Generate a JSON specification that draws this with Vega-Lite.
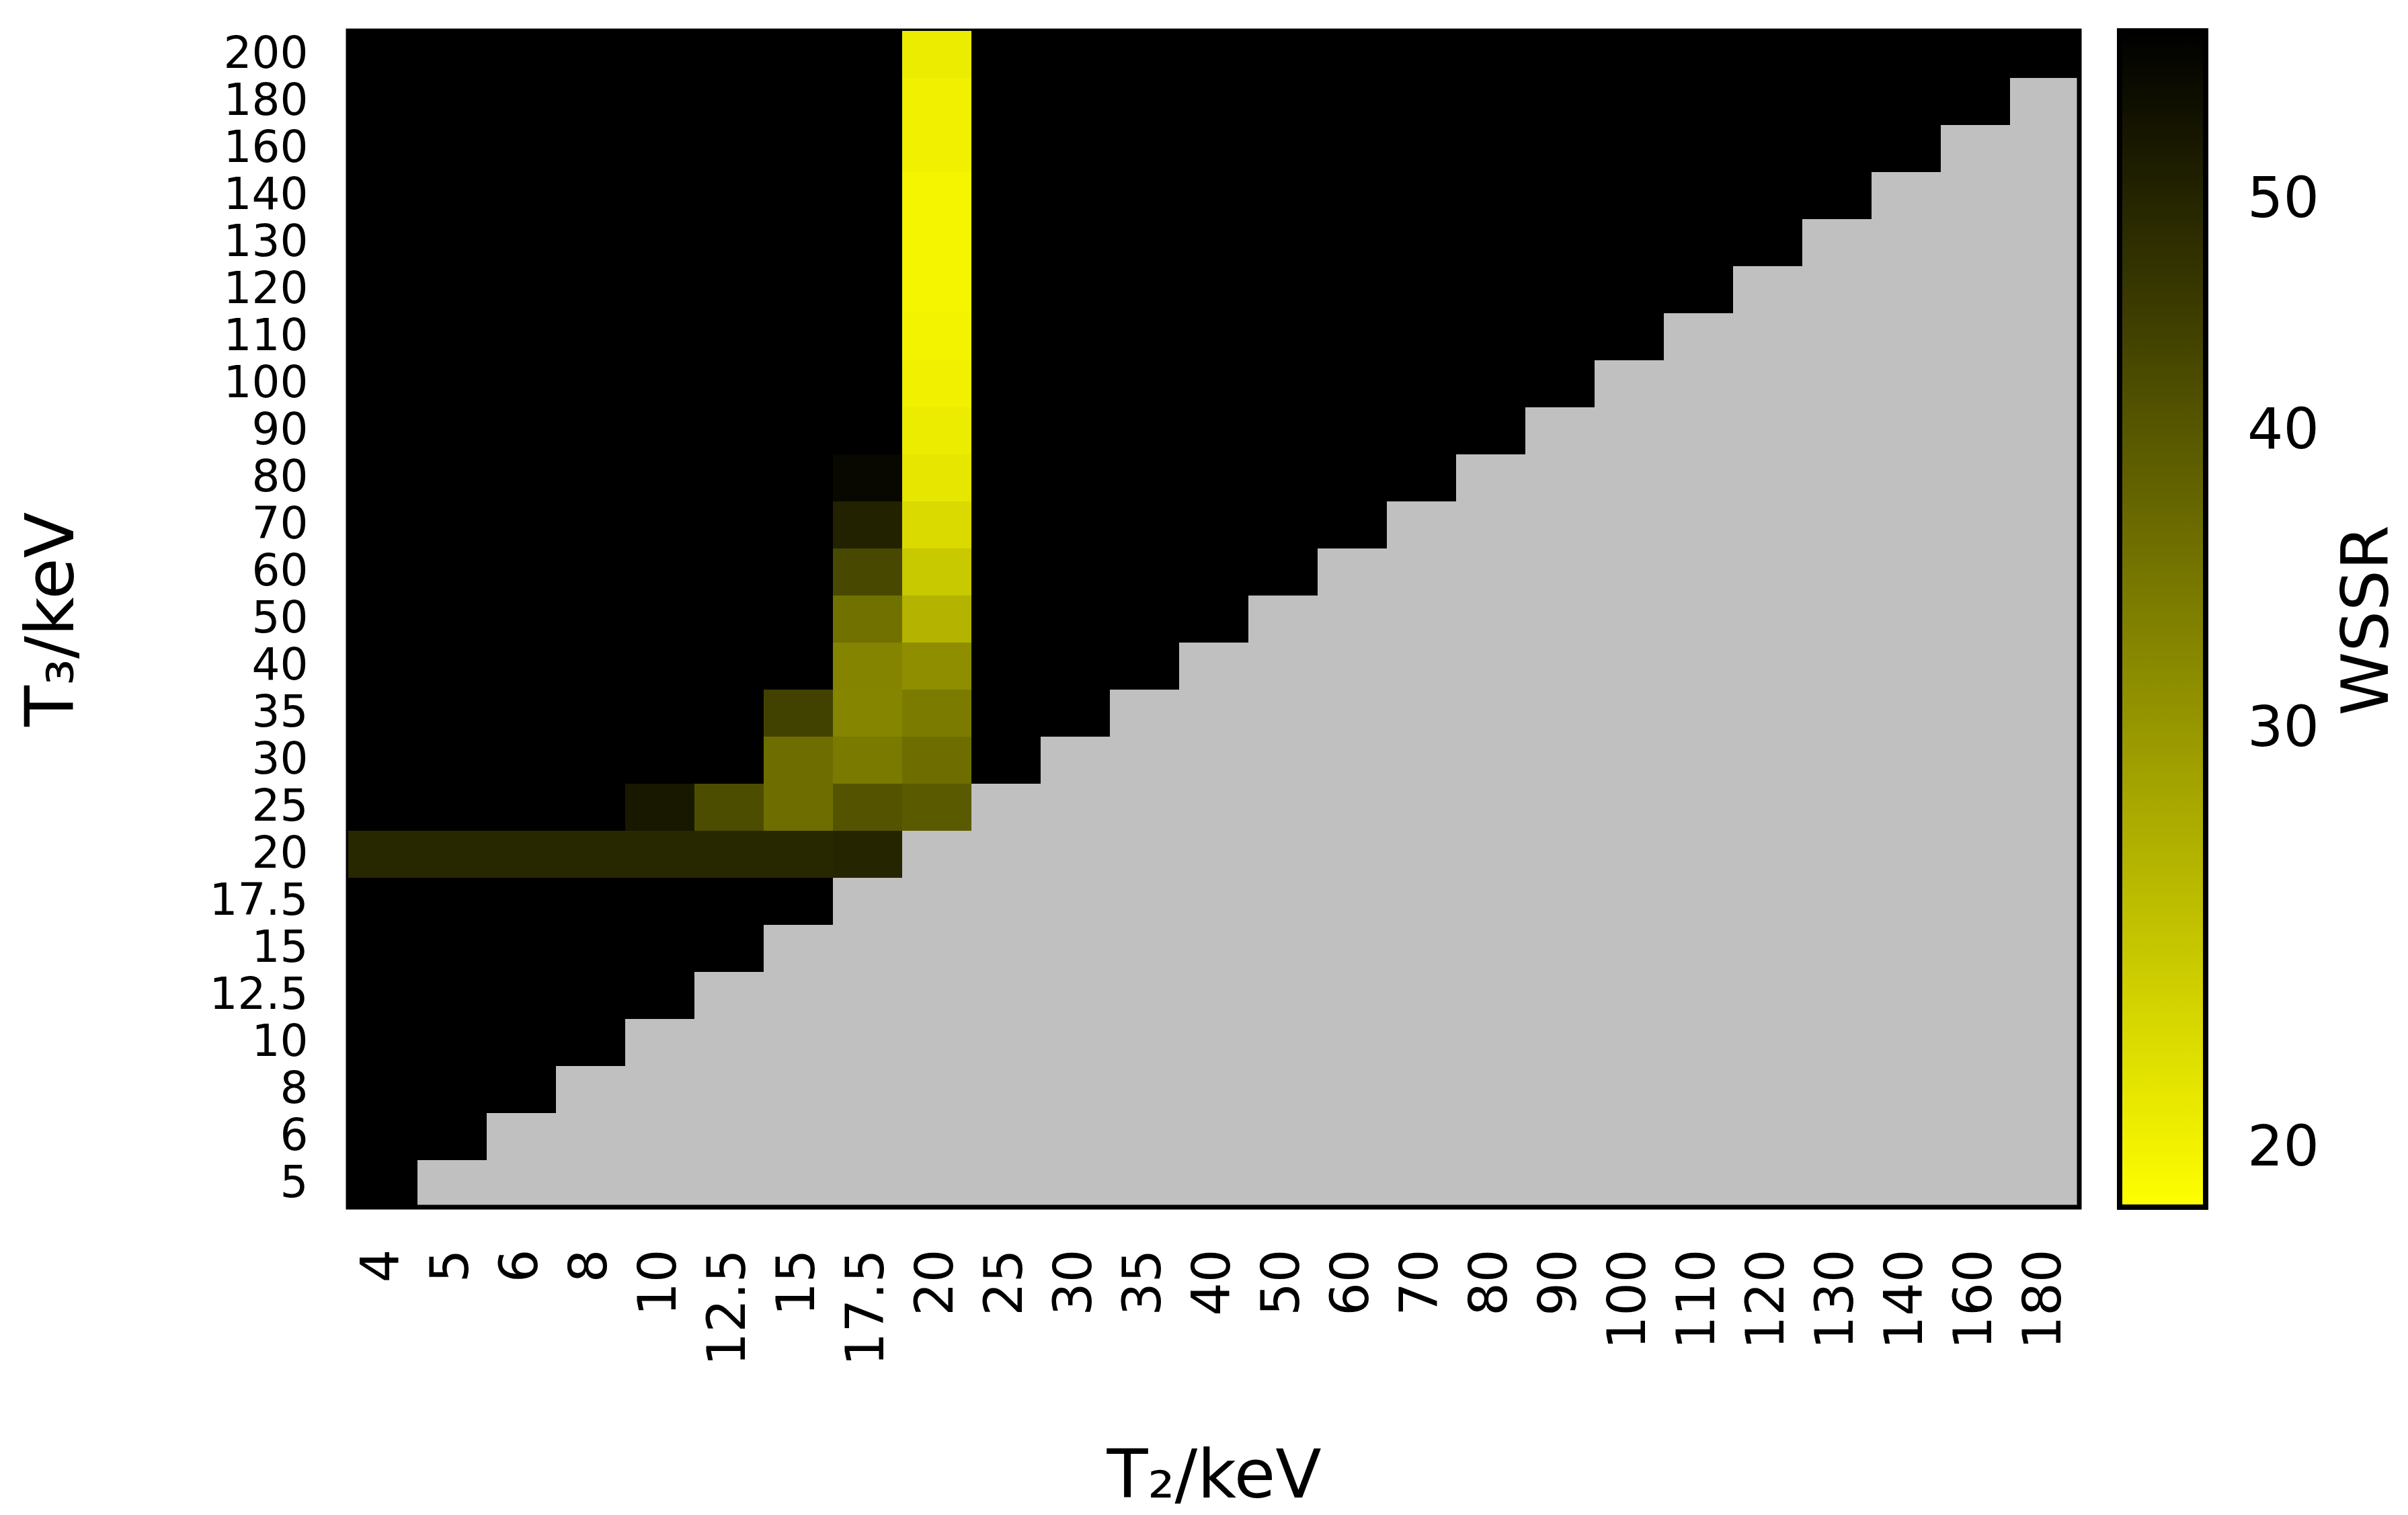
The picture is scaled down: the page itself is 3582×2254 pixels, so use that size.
{
  "$schema": "https://vega.github.io/schema/vega-lite/v6.json",
  "autosize": {"type": "none"},
  "padding": {"left": 518, "top": 46, "right": 489, "bottom": 458},
  "width": 2575,
  "height": 1750,
  "background": "white",
  "config": {
    "view": {"fill": "#c0c0c0", "stroke": "#000000", "strokeWidth": 7},
    "font": "DejaVu Sans"
  },
  "data": {"values": [
    {"T3":5,"T2":4,"WSSR":60},
    {"T3":6,"T2":4,"WSSR":60},{"T3":6,"T2":5,"WSSR":60},
    {"T3":8,"T2":4,"WSSR":60},{"T3":8,"T2":5,"WSSR":60},{"T3":8,"T2":6,"WSSR":60},
    {"T3":10,"T2":4,"WSSR":60},{"T3":10,"T2":5,"WSSR":60},{"T3":10,"T2":6,"WSSR":60},{"T3":10,"T2":8,"WSSR":60},
    {"T3":12.5,"T2":4,"WSSR":60},{"T3":12.5,"T2":5,"WSSR":60},{"T3":12.5,"T2":6,"WSSR":60},{"T3":12.5,"T2":8,"WSSR":60},{"T3":12.5,"T2":10,"WSSR":60},
    {"T3":15,"T2":4,"WSSR":60},{"T3":15,"T2":5,"WSSR":60},{"T3":15,"T2":6,"WSSR":60},{"T3":15,"T2":8,"WSSR":60},{"T3":15,"T2":10,"WSSR":60},{"T3":15,"T2":12.5,"WSSR":60},
    {"T3":17.5,"T2":4,"WSSR":60},{"T3":17.5,"T2":5,"WSSR":60},{"T3":17.5,"T2":6,"WSSR":60},{"T3":17.5,"T2":8,"WSSR":60},{"T3":17.5,"T2":10,"WSSR":60},{"T3":17.5,"T2":12.5,"WSSR":60},{"T3":17.5,"T2":15,"WSSR":60},
    {"T3":20,"T2":4,"WSSR":49.3},{"T3":20,"T2":5,"WSSR":49.3},{"T3":20,"T2":6,"WSSR":49.3},{"T3":20,"T2":8,"WSSR":49.3},{"T3":20,"T2":10,"WSSR":49.3},{"T3":20,"T2":12.5,"WSSR":49.3},{"T3":20,"T2":15,"WSSR":49.3},{"T3":20,"T2":17.5,"WSSR":49.9},
    {"T3":25,"T2":4,"WSSR":60},{"T3":25,"T2":5,"WSSR":60},{"T3":25,"T2":6,"WSSR":60},{"T3":25,"T2":8,"WSSR":60},{"T3":25,"T2":10,"WSSR":52.9},{"T3":25,"T2":12.5,"WSSR":41.8},{"T3":25,"T2":15,"WSSR":36.1},{"T3":25,"T2":17.5,"WSSR":40.5},{"T3":25,"T2":20,"WSSR":39.4},
    {"T3":30,"T2":4,"WSSR":60},{"T3":30,"T2":5,"WSSR":60},{"T3":30,"T2":6,"WSSR":60},{"T3":30,"T2":8,"WSSR":60},{"T3":30,"T2":10,"WSSR":60},{"T3":30,"T2":12.5,"WSSR":60},{"T3":30,"T2":15,"WSSR":36.1},{"T3":30,"T2":17.5,"WSSR":34.2},{"T3":30,"T2":20,"WSSR":36.1},{"T3":30,"T2":25,"WSSR":60},
    {"T3":35,"T2":4,"WSSR":60},{"T3":35,"T2":5,"WSSR":60},{"T3":35,"T2":6,"WSSR":60},{"T3":35,"T2":8,"WSSR":60},{"T3":35,"T2":10,"WSSR":60},{"T3":35,"T2":12.5,"WSSR":60},{"T3":35,"T2":15,"WSSR":43.9},{"T3":35,"T2":17.5,"WSSR":32.5},{"T3":35,"T2":20,"WSSR":34.0},{"T3":35,"T2":25,"WSSR":60},{"T3":35,"T2":30,"WSSR":60},
    {"T3":40,"T2":4,"WSSR":60},{"T3":40,"T2":5,"WSSR":60},{"T3":40,"T2":6,"WSSR":60},{"T3":40,"T2":8,"WSSR":60},{"T3":40,"T2":10,"WSSR":60},{"T3":40,"T2":12.5,"WSSR":60},{"T3":40,"T2":15,"WSSR":60},{"T3":40,"T2":17.5,"WSSR":32.7},{"T3":40,"T2":20,"WSSR":31.3},{"T3":40,"T2":25,"WSSR":60},{"T3":40,"T2":30,"WSSR":60},{"T3":40,"T2":35,"WSSR":60},
    {"T3":50,"T2":4,"WSSR":60},{"T3":50,"T2":5,"WSSR":60},{"T3":50,"T2":6,"WSSR":60},{"T3":50,"T2":8,"WSSR":60},{"T3":50,"T2":10,"WSSR":60},{"T3":50,"T2":12.5,"WSSR":60},{"T3":50,"T2":15,"WSSR":60},{"T3":50,"T2":17.5,"WSSR":35.6},{"T3":50,"T2":20,"WSSR":26.5},{"T3":50,"T2":25,"WSSR":60},{"T3":50,"T2":30,"WSSR":60},{"T3":50,"T2":35,"WSSR":60},{"T3":50,"T2":40,"WSSR":60},
    {"T3":60,"T2":4,"WSSR":60},{"T3":60,"T2":5,"WSSR":60},{"T3":60,"T2":6,"WSSR":60},{"T3":60,"T2":8,"WSSR":60},{"T3":60,"T2":10,"WSSR":60},{"T3":60,"T2":12.5,"WSSR":60},{"T3":60,"T2":15,"WSSR":60},{"T3":60,"T2":17.5,"WSSR":42.7},{"T3":60,"T2":20,"WSSR":24.0},{"T3":60,"T2":25,"WSSR":60},{"T3":60,"T2":30,"WSSR":60},{"T3":60,"T2":35,"WSSR":60},{"T3":60,"T2":40,"WSSR":60},{"T3":60,"T2":50,"WSSR":60},
    {"T3":70,"T2":4,"WSSR":60},{"T3":70,"T2":5,"WSSR":60},{"T3":70,"T2":6,"WSSR":60},{"T3":70,"T2":8,"WSSR":60},{"T3":70,"T2":10,"WSSR":60},{"T3":70,"T2":12.5,"WSSR":60},{"T3":70,"T2":15,"WSSR":60},{"T3":70,"T2":17.5,"WSSR":50.6},{"T3":70,"T2":20,"WSSR":22.3},{"T3":70,"T2":25,"WSSR":60},{"T3":70,"T2":30,"WSSR":60},{"T3":70,"T2":35,"WSSR":60},{"T3":70,"T2":40,"WSSR":60},{"T3":70,"T2":50,"WSSR":60},{"T3":70,"T2":60,"WSSR":60},
    {"T3":80,"T2":4,"WSSR":60},{"T3":80,"T2":5,"WSSR":60},{"T3":80,"T2":6,"WSSR":60},{"T3":80,"T2":8,"WSSR":60},{"T3":80,"T2":10,"WSSR":60},{"T3":80,"T2":12.5,"WSSR":60},{"T3":80,"T2":15,"WSSR":60},{"T3":80,"T2":17.5,"WSSR":56.9},{"T3":80,"T2":20,"WSSR":21.1},{"T3":80,"T2":25,"WSSR":60},{"T3":80,"T2":30,"WSSR":60},{"T3":80,"T2":35,"WSSR":60},{"T3":80,"T2":40,"WSSR":60},{"T3":80,"T2":50,"WSSR":60},{"T3":80,"T2":60,"WSSR":60},{"T3":80,"T2":70,"WSSR":60},
    {"T3":90,"T2":4,"WSSR":60},{"T3":90,"T2":5,"WSSR":60},{"T3":90,"T2":6,"WSSR":60},{"T3":90,"T2":8,"WSSR":60},{"T3":90,"T2":10,"WSSR":60},{"T3":90,"T2":12.5,"WSSR":60},{"T3":90,"T2":15,"WSSR":60},{"T3":90,"T2":17.5,"WSSR":60},{"T3":90,"T2":20,"WSSR":20.6},{"T3":90,"T2":25,"WSSR":60},{"T3":90,"T2":30,"WSSR":60},{"T3":90,"T2":35,"WSSR":60},{"T3":90,"T2":40,"WSSR":60},{"T3":90,"T2":50,"WSSR":60},{"T3":90,"T2":60,"WSSR":60},{"T3":90,"T2":70,"WSSR":60},{"T3":90,"T2":80,"WSSR":60},
    {"T3":100,"T2":4,"WSSR":60},{"T3":100,"T2":5,"WSSR":60},{"T3":100,"T2":6,"WSSR":60},{"T3":100,"T2":8,"WSSR":60},{"T3":100,"T2":10,"WSSR":60},{"T3":100,"T2":12.5,"WSSR":60},{"T3":100,"T2":15,"WSSR":60},{"T3":100,"T2":17.5,"WSSR":60},{"T3":100,"T2":20,"WSSR":20.2},{"T3":100,"T2":25,"WSSR":60},{"T3":100,"T2":30,"WSSR":60},{"T3":100,"T2":35,"WSSR":60},{"T3":100,"T2":40,"WSSR":60},{"T3":100,"T2":50,"WSSR":60},{"T3":100,"T2":60,"WSSR":60},{"T3":100,"T2":70,"WSSR":60},{"T3":100,"T2":80,"WSSR":60},{"T3":100,"T2":90,"WSSR":60},
    {"T3":110,"T2":4,"WSSR":60},{"T3":110,"T2":5,"WSSR":60},{"T3":110,"T2":6,"WSSR":60},{"T3":110,"T2":8,"WSSR":60},{"T3":110,"T2":10,"WSSR":60},{"T3":110,"T2":12.5,"WSSR":60},{"T3":110,"T2":15,"WSSR":60},{"T3":110,"T2":17.5,"WSSR":60},{"T3":110,"T2":20,"WSSR":19.9},{"T3":110,"T2":25,"WSSR":60},{"T3":110,"T2":30,"WSSR":60},{"T3":110,"T2":35,"WSSR":60},{"T3":110,"T2":40,"WSSR":60},{"T3":110,"T2":50,"WSSR":60},{"T3":110,"T2":60,"WSSR":60},{"T3":110,"T2":70,"WSSR":60},{"T3":110,"T2":80,"WSSR":60},{"T3":110,"T2":90,"WSSR":60},{"T3":110,"T2":100,"WSSR":60},
    {"T3":120,"T2":4,"WSSR":60},{"T3":120,"T2":5,"WSSR":60},{"T3":120,"T2":6,"WSSR":60},{"T3":120,"T2":8,"WSSR":60},{"T3":120,"T2":10,"WSSR":60},{"T3":120,"T2":12.5,"WSSR":60},{"T3":120,"T2":15,"WSSR":60},{"T3":120,"T2":17.5,"WSSR":60},{"T3":120,"T2":20,"WSSR":19.8},{"T3":120,"T2":25,"WSSR":60},{"T3":120,"T2":30,"WSSR":60},{"T3":120,"T2":35,"WSSR":60},{"T3":120,"T2":40,"WSSR":60},{"T3":120,"T2":50,"WSSR":60},{"T3":120,"T2":60,"WSSR":60},{"T3":120,"T2":70,"WSSR":60},{"T3":120,"T2":80,"WSSR":60},{"T3":120,"T2":90,"WSSR":60},{"T3":120,"T2":100,"WSSR":60},{"T3":120,"T2":110,"WSSR":60},
    {"T3":130,"T2":4,"WSSR":60},{"T3":130,"T2":5,"WSSR":60},{"T3":130,"T2":6,"WSSR":60},{"T3":130,"T2":8,"WSSR":60},{"T3":130,"T2":10,"WSSR":60},{"T3":130,"T2":12.5,"WSSR":60},{"T3":130,"T2":15,"WSSR":60},{"T3":130,"T2":17.5,"WSSR":60},{"T3":130,"T2":20,"WSSR":19.75},{"T3":130,"T2":25,"WSSR":60},{"T3":130,"T2":30,"WSSR":60},{"T3":130,"T2":35,"WSSR":60},{"T3":130,"T2":40,"WSSR":60},{"T3":130,"T2":50,"WSSR":60},{"T3":130,"T2":60,"WSSR":60},{"T3":130,"T2":70,"WSSR":60},{"T3":130,"T2":80,"WSSR":60},{"T3":130,"T2":90,"WSSR":60},{"T3":130,"T2":100,"WSSR":60},{"T3":130,"T2":110,"WSSR":60},{"T3":130,"T2":120,"WSSR":60},
    {"T3":140,"T2":4,"WSSR":60},{"T3":140,"T2":5,"WSSR":60},{"T3":140,"T2":6,"WSSR":60},{"T3":140,"T2":8,"WSSR":60},{"T3":140,"T2":10,"WSSR":60},{"T3":140,"T2":12.5,"WSSR":60},{"T3":140,"T2":15,"WSSR":60},{"T3":140,"T2":17.5,"WSSR":60},{"T3":140,"T2":20,"WSSR":19.75},{"T3":140,"T2":25,"WSSR":60},{"T3":140,"T2":30,"WSSR":60},{"T3":140,"T2":35,"WSSR":60},{"T3":140,"T2":40,"WSSR":60},{"T3":140,"T2":50,"WSSR":60},{"T3":140,"T2":60,"WSSR":60},{"T3":140,"T2":70,"WSSR":60},{"T3":140,"T2":80,"WSSR":60},{"T3":140,"T2":90,"WSSR":60},{"T3":140,"T2":100,"WSSR":60},{"T3":140,"T2":110,"WSSR":60},{"T3":140,"T2":120,"WSSR":60},{"T3":140,"T2":130,"WSSR":60},
    {"T3":160,"T2":4,"WSSR":60},{"T3":160,"T2":5,"WSSR":60},{"T3":160,"T2":6,"WSSR":60},{"T3":160,"T2":8,"WSSR":60},{"T3":160,"T2":10,"WSSR":60},{"T3":160,"T2":12.5,"WSSR":60},{"T3":160,"T2":15,"WSSR":60},{"T3":160,"T2":17.5,"WSSR":60},{"T3":160,"T2":20,"WSSR":20.2},{"T3":160,"T2":25,"WSSR":60},{"T3":160,"T2":30,"WSSR":60},{"T3":160,"T2":35,"WSSR":60},{"T3":160,"T2":40,"WSSR":60},{"T3":160,"T2":50,"WSSR":60},{"T3":160,"T2":60,"WSSR":60},{"T3":160,"T2":70,"WSSR":60},{"T3":160,"T2":80,"WSSR":60},{"T3":160,"T2":90,"WSSR":60},{"T3":160,"T2":100,"WSSR":60},{"T3":160,"T2":110,"WSSR":60},{"T3":160,"T2":120,"WSSR":60},{"T3":160,"T2":130,"WSSR":60},{"T3":160,"T2":140,"WSSR":60},
    {"T3":180,"T2":4,"WSSR":60},{"T3":180,"T2":5,"WSSR":60},{"T3":180,"T2":6,"WSSR":60},{"T3":180,"T2":8,"WSSR":60},{"T3":180,"T2":10,"WSSR":60},{"T3":180,"T2":12.5,"WSSR":60},{"T3":180,"T2":15,"WSSR":60},{"T3":180,"T2":17.5,"WSSR":60},{"T3":180,"T2":20,"WSSR":20.2},{"T3":180,"T2":25,"WSSR":60},{"T3":180,"T2":30,"WSSR":60},{"T3":180,"T2":35,"WSSR":60},{"T3":180,"T2":40,"WSSR":60},{"T3":180,"T2":50,"WSSR":60},{"T3":180,"T2":60,"WSSR":60},{"T3":180,"T2":70,"WSSR":60},{"T3":180,"T2":80,"WSSR":60},{"T3":180,"T2":90,"WSSR":60},{"T3":180,"T2":100,"WSSR":60},{"T3":180,"T2":110,"WSSR":60},{"T3":180,"T2":120,"WSSR":60},{"T3":180,"T2":130,"WSSR":60},{"T3":180,"T2":140,"WSSR":60},{"T3":180,"T2":160,"WSSR":60},
    {"T3":200,"T2":4,"WSSR":60},{"T3":200,"T2":5,"WSSR":60},{"T3":200,"T2":6,"WSSR":60},{"T3":200,"T2":8,"WSSR":60},{"T3":200,"T2":10,"WSSR":60},{"T3":200,"T2":12.5,"WSSR":60},{"T3":200,"T2":15,"WSSR":60},{"T3":200,"T2":17.5,"WSSR":60},{"T3":200,"T2":20,"WSSR":20.6},{"T3":200,"T2":25,"WSSR":60},{"T3":200,"T2":30,"WSSR":60},{"T3":200,"T2":35,"WSSR":60},{"T3":200,"T2":40,"WSSR":60},{"T3":200,"T2":50,"WSSR":60},{"T3":200,"T2":60,"WSSR":60},{"T3":200,"T2":70,"WSSR":60},{"T3":200,"T2":80,"WSSR":60},{"T3":200,"T2":90,"WSSR":60},{"T3":200,"T2":100,"WSSR":60},{"T3":200,"T2":110,"WSSR":60},{"T3":200,"T2":120,"WSSR":60},{"T3":200,"T2":130,"WSSR":60},{"T3":200,"T2":140,"WSSR":60},{"T3":200,"T2":160,"WSSR":60},{"T3":200,"T2":180,"WSSR":60}
  ]},
  "mark": {"type": "rect"},
  "encoding": {
    "x": {
      "field": "T2", "type": "ordinal",
      "scale": {"domain": [4,5,6,8,10,12.5,15,17.5,20,25,30,35,40,50,60,70,80,90,100,110,120,130,140,160,180], "paddingInner": 0, "paddingOuter": 0},
      "axis": {
        "title": "T₂/keV", "titleFontSize": 100, "titleFontWeight": "normal", "titleColor": "#000", "titlePadding": 152,
        "labelAngle": -90, "labelFontSize": 78, "labelColor": "#000", "labelPadding": 62,
        "ticks": false, "domain": false, "labelOverlap": false, "labelBound": false, "labelFlush": false
      }
    },
    "y": {
      "field": "T3", "type": "ordinal",
      "scale": {"domain": [200,180,160,140,130,120,110,100,90,80,70,60,50,40,35,30,25,20,17.5,15,12.5,10,8,6,5], "paddingInner": 0, "paddingOuter": 0},
      "axis": {
        "title": "T₃/keV", "titleFontSize": 100, "titleFontWeight": "normal", "titleColor": "#000", "titlePadding": 189,
        "labelFontSize": 66, "labelColor": "#000", "labelPadding": 60,
        "ticks": false, "domain": false, "labelOverlap": false, "labelBound": false, "labelFlush": false
      }
    },
    "color": {
      "field": "WSSR", "type": "quantitative",
      "scale": {"type": "log", "domain": [18.9, 58.9], "range": ["#ffff00", "#000000"], "interpolate": "rgb", "clamp": true},
      "legend": {
        "title": "WSSR", "orient": "right", "offset": 60, "padding": 0,
        "direction": "vertical",
        "gradientLength": 1750, "gradientThickness": 128,
        "gradientStrokeColor": "#000000", "gradientStrokeWidth": 8,
        "values": [20, 30, 40, 50],
        "labelFontSize": 84, "labelColor": "#000", "labelOffset": 62, "labelOverlap": false,
        "titleOrient": "right", "titleFontSize": 96, "titleFontWeight": "normal", "titleColor": "#000",
        "titleAnchor": "middle", "titleAlign": "center", "titleBaseline": "top", "titlePadding": 26, "titleLimit": 3000,
        "encoding": {"title": {"angle": {"value": -90}}}
      }
    }
  }
}
